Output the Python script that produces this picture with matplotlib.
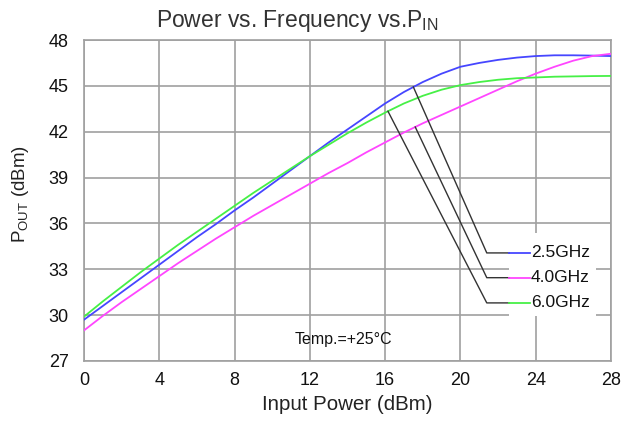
import matplotlib
matplotlib.use('Agg')
import matplotlib.pyplot as plt
import numpy as np
from matplotlib.patches import Rectangle

plt.rcParams['font.family'] = ['Liberation Sans', 'DejaVu Sans']
plt.rcParams['mathtext.default'] = 'regular'

# input power (dBm)
pin = list(range(0, 29))

# output power (dBm) per frequency, every 1 dBm
pout_25 = [29.7, 30.6, 31.5, 32.4, 33.3, 34.2, 35.1, 35.95, 36.85, 37.7,
           38.6, 39.5, 40.4, 41.3, 42.15, 43.0, 43.85, 44.6, 45.25, 45.8,
           46.25, 46.5, 46.7, 46.85, 46.95, 47.0, 47.0, 46.98, 46.95]
pout_40 = [29.0, 29.95, 30.85, 31.7, 32.55, 33.4, 34.2, 35.0, 35.75, 36.5,
           37.2, 37.9, 38.6, 39.3, 39.95, 40.65, 41.3, 41.95, 42.55, 43.1,
           43.65, 44.2, 44.75, 45.3, 45.8, 46.25, 46.65, 46.95, 47.1]
pout_60 = [29.9, 30.9, 31.85, 32.8, 33.7, 34.6, 35.45, 36.3, 37.15, 38.0,
           38.8, 39.6, 40.4, 41.15, 41.9, 42.6, 43.25, 43.85, 44.35, 44.75,
           45.05, 45.25, 45.4, 45.5, 45.55, 45.6, 45.62, 45.64, 45.65]

labels = ['2.5GHz', '4.0GHz', '6.0GHz']
colors = ['#4646ff', '#ff46ff', '#46f046']

x_ticks = [0, 4, 8, 12, 16, 20, 24, 28]
y_ticks = [27, 30, 33, 36, 39, 42, 45, 48]

fig = plt.figure(figsize=(6.34, 4.23), dpi=100)
ax = fig.add_axes([0.1325, 0.1466, 0.8312, 0.7588])

series = [pout_25, pout_40, pout_60]
for s, c in zip(series, colors):
    ax.plot(pin, s, color=c, lw=1.3, zorder=3)

ax.set_xlim(0, 28)
ax.set_ylim(27, 48)
ax.set_xticks(x_ticks)
ax.set_yticks(y_ticks)
ax.tick_params(length=0, labelsize=13, colors='#111111')
ax.tick_params(axis='x', pad=8)
ax.tick_params(axis='y', pad=11)
ax.grid(True, color='#a0a0a0', lw=1.2)
ax.set_axisbelow(True)
for sp in ax.spines.values():
    sp.set_color('#a0a0a0')
    sp.set_linewidth(1.2)

# legend box with leader lines
ax.add_patch(Rectangle((22.6, 29.95), 4.6, 5.4, facecolor='white', edgecolor='none', zorder=2))
leader_x = [17.5, 17.6, 16.15]
legend_y = [34.07, 32.45, 30.8]
for s, c, lab, lx, ly in zip(series, colors, labels, leader_x, legend_y):
    sy = np.interp(lx, pin, s)
    ax.plot([lx, 21.4, 22.6], [sy, ly, ly], color='#333333', lw=1.0, zorder=4)
    ax.plot([22.6, 23.7], [ly, ly], color=c, lw=1.3, zorder=4)
    ax.text(23.75, ly, lab, fontsize=12.5, va='center', ha='left', zorder=5, color='#111111')

ax.text(13.8, 28.4, 'Temp.=+25°C', fontsize=11.5, ha='center', va='center', color='#111111')

ax.text(0.404, 1.02, 'Power vs. Frequency vs.P$_{IN}$', transform=ax.transAxes,
        fontsize=16.5, ha='center', va='bottom', color='#333333')
ax.set_xlabel('Input Power (dBm)', fontsize=14.8, labelpad=4, color='#222222')
ax.set_ylabel('P$_{OUT}$ (dBm)', fontsize=13.5, labelpad=7, color='#222222')
ax.yaxis.set_label_coords(-0.1, 0.52)

plt.savefig('out.png', dpi=100)
